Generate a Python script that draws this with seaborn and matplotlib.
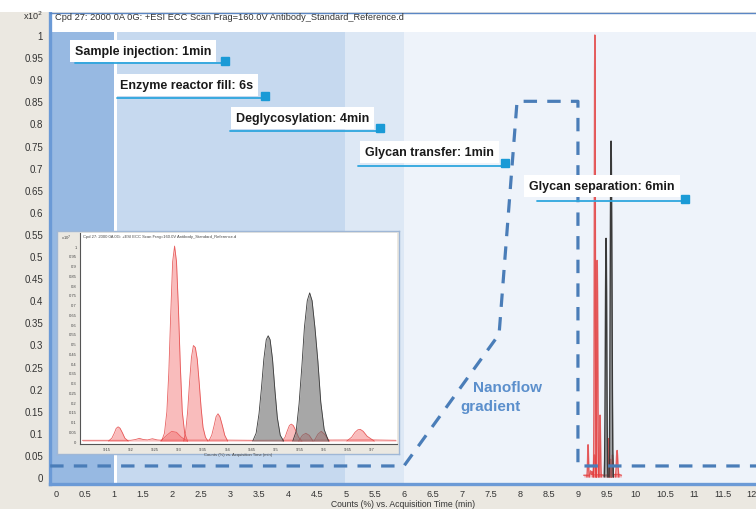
import numpy as np
import matplotlib
matplotlib.use('Agg')
import matplotlib.pyplot as plt
import seaborn as sns

# nanoflow gradient trace (time in min, level on the counts axis)
grad_time = [-0.1, 6.0, 7.64, 7.95, 9.0, 9.0, 12.1]
grad_level = [0.025, 0.025, 0.323, 0.85, 0.85, 0.025, 0.025]

# workflow steps shaded behind the chromatogram
span_start = [-0.2, 1.0, 1.05, 4.98, 6.0]
span_end = [1.0, 1.05, 4.98, 6.0, 12.2]
span_color = ['#97b9e2', '#ffffff', '#c6d9ef', '#dde8f5', '#eef3fa']

step_labels = ['Sample injection: 1min', 'Enzyme reactor fill: 6s',
               'Deglycosylation: 4min', 'Glycan transfer: 1min',
               'Glycan separation: 6min']
label_x = [0.33, 1.10, 3.10, 5.33, 8.16]
label_y = [0.964, 0.887, 0.812, 0.735, 0.658]
rule_x0 = [0.33, 1.05, 3.0, 5.21, 8.29]
rule_x1 = [2.97, 3.66, 5.64, 7.79, 10.9]
rule_y = [0.936, 0.857, 0.783, 0.704, 0.624]

# glycan peaks (min, counts x10^2)
red_base_t = [9.10, 9.20, 9.21, 9.218, 9.226, 9.235, 9.245, 9.255, 9.26,
              9.40, 9.45, 9.70, 9.75]
red_base_i = [0.004, 0.004, 0.008, 0.014, 0.008, 0.006, 0.012, 0.006, 0.005,
              0.005, 0.004, 0.006, 0.004]
red1_t = [9.154, 9.161, 9.166, 9.170, 9.174, 9.178, 9.183, 9.188, 9.195]
red1_i = [0, 0.015, 0.04, 0.065, 0.073, 0.066, 0.042, 0.015, 0]
red2_t = [9.262, 9.275, 9.285, 9.295, 9.305, 9.318]
red2_i = [0, 0.03, 0.05, 0.045, 0.02, 0]
red3_t = [9.264, 9.270, 9.275, 9.279, 9.283, 9.287, 9.291, 9.295, 9.299,
          9.303, 9.307, 9.312, 9.318]
red3_i = [0, 0.04, 0.15, 0.35, 0.65, 0.92, 1.0, 0.92, 0.68, 0.38, 0.15,
          0.04, 0]
red4_t = [9.310, 9.314, 9.318, 9.322, 9.326, 9.330, 9.334, 9.338, 9.342,
          9.346, 9.350, 9.355, 9.360]
red4_i = [0, 0.05, 0.15, 0.30, 0.43, 0.49, 0.48, 0.42, 0.30, 0.17, 0.07,
          0.02, 0]
red5_t = [9.362, 9.368, 9.373, 9.377, 9.381, 9.385, 9.390, 9.395, 9.401]
red5_i = [0, 0.03, 0.08, 0.125, 0.14, 0.125, 0.08, 0.03, 0]
red6_t = [9.514, 9.520, 9.525, 9.529, 9.533, 9.537, 9.542, 9.548, 9.555]
red6_i = [0, 0.02, 0.055, 0.08, 0.087, 0.08, 0.055, 0.02, 0]
red7_t = [9.548, 9.556, 9.563, 9.570, 9.578]
red7_i = [0, 0.03, 0.04, 0.03, 0]
red8_t = [9.580, 9.588, 9.595, 9.602, 9.612]
red8_i = [0, 0.035, 0.05, 0.035, 0]
red9_t = [9.648, 9.658, 9.665, 9.671, 9.676, 9.682, 9.690, 9.705]
red9_i = [0, 0.02, 0.045, 0.058, 0.06, 0.05, 0.025, 0]
grey1_t = [9.453, 9.460, 9.466, 9.471, 9.476, 9.481, 9.485, 9.489, 9.494,
           9.499, 9.504, 9.510, 9.517]
grey1_i = [0, 0.04, 0.14, 0.27, 0.42, 0.52, 0.54, 0.52, 0.42, 0.26, 0.12,
           0.03, 0]
grey2_t = [9.536, 9.543, 9.549, 9.555, 9.560, 9.566, 9.571, 9.576, 9.582,
           9.588, 9.594, 9.601, 9.610]
grey2_i = [0, 0.05, 0.19, 0.39, 0.58, 0.72, 0.76, 0.72, 0.58, 0.41, 0.20,
           0.06, 0]

red_traces = [(red_base_t, red_base_i), (red1_t, red1_i), (red2_t, red2_i),
              (red3_t, red3_i), (red4_t, red4_i), (red5_t, red5_i),
              (red6_t, red6_i), (red7_t, red7_i), (red8_t, red8_i),
              (red9_t, red9_i)]
grey_traces = [(grey1_t, grey1_i), (grey2_t, grey2_i)]

main_ticks_x = np.arange(0, 12.01, 0.5)
main_ticks_y = np.arange(0, 1.001, 0.05)
inset_ticks_x = np.arange(9.15, 9.701, 0.05)
inset_ticks_y = np.arange(0, 1.001, 0.05)

title = ('Cpd 27: 2000 0A 0G: +ESI ECC Scan Frag=160.0V '
         'Antibody_Standard_Reference.d')
xlab = 'Counts (%) vs. Acquisition Time (min)'

sns.set_style('white')
plt.rcParams['font.family'] = ['Liberation Sans', 'DejaVu Sans']

W, H = 756, 510
beige = '#ebe8e1'


def px_rect(x0, y0, x1, y1):
    return [x0 / W, 1 - y1 / H, (x1 - x0) / W, (y1 - y0) / H]


def fmt(v):
    return '%g' % round(v, 2)


def draw_traces(ax, lw):
    for t, i in red_traces:
        ax.fill_between(t, i, color='#f26b6b', alpha=0.45, lw=0, zorder=2)
        sns.lineplot(x=t, y=i, ax=ax, color='#e23a3a', lw=lw, alpha=0.8,
                     estimator=None, sort=False, zorder=2)
    for t, i in grey_traces:
        ax.fill_between(t, i, color='#6c6c6c', alpha=0.6, lw=0, zorder=2)
        sns.lineplot(x=t, y=i, ax=ax, color='#3a3a3a', lw=lw,
                     estimator=None, sort=False, zorder=2)


fig = plt.figure(figsize=(W / 100, H / 100), dpi=100, facecolor=beige)
fig.patches.append(plt.Rectangle((0, 1 - 13 / H), 1, 13 / H,
                                 transform=fig.transFigure,
                                 facecolor='white', edgecolor='none'))

ax = fig.add_axes(px_rect(50, 14, 756, 485))
ax.set_xlim(-0.103, 12.07)
ax.set_ylim(-0.0158, 1.0498)

for s0, s1, c in zip(span_start, span_end, span_color):
    ax.axvspan(s0, s1, color=c, lw=0, zorder=0)
ax.axhspan(1.0068, 1.06, color='white', lw=0, zorder=1)

draw_traces(ax, 1.0)

sns.lineplot(x=grad_time, y=grad_level, ax=ax, color='#4a7db8', lw=2.3,
             estimator=None, sort=False, zorder=3,
             linestyle=(0, (4.2, 3.2)))

for lab, tx, ty, r0, r1, ry in zip(step_labels, label_x, label_y,
                                   rule_x0, rule_x1, rule_y):
    ax.text(tx, ty, lab, fontsize=9, weight='bold', color='#1a1a1a',
            ha='left', va='center', zorder=5,
            bbox=dict(boxstyle='square,pad=0.4', facecolor='white',
                      edgecolor='none'))
    ax.plot([r0, r1], [ry, ry], color='#2ea6de', lw=1.3, zorder=6)
    ax.plot([r1 - 0.05], [ry + 0.006], marker='s', ms=5.5,
            color='#1a9ad6', zorder=6)

ax.text(7.19, 0.203, 'Nanoflow', color='#5b8fcc', fontsize=11,
        weight='bold', ha='left', va='center', zorder=5)
ax.text(6.97, 0.160, 'gradient', color='#5b8fcc', fontsize=11,
        weight='bold', ha='left', va='center', zorder=5)

ax.text(-0.017, 1.043, title, fontsize=6.7, color='#333333',
        ha='left', va='center', zorder=5)
fig.text(33 / W, 1 - 16 / H, r'x10$^2$', fontsize=6.5, color='#333333',
         ha='center', va='center')

ax.set_xticks(main_ticks_x)
ax.set_xticklabels([fmt(v) for v in main_ticks_x])
ax.set_yticks(main_ticks_y)
ax.set_yticklabels([fmt(v) for v in main_ticks_y])
ax.tick_params(axis='both', labelsize=7, colors='#333333', length=3,
               width=0.8, direction='out', pad=2)
ax.tick_params(axis='x', labelsize=6.6, length=2.5, pad=1)
ax.set_xlabel(xlab, fontsize=6.2, color='#333333')
ax.xaxis.set_label_coords(0.5, -(509 - 485) / (485 - 14))
ax.xaxis.label.set_va('bottom')
ax.set_ylabel('')
for side in ['left', 'bottom']:
    ax.spines[side].set_color('#6b9ad6')
    ax.spines[side].set_linewidth(2.4)
ax.spines['top'].set_color('#5b87c5')
ax.spines['top'].set_linewidth(1)
ax.spines['right'].set_visible(False)

# zoomed chromatogram pasted over the main plot
bg = fig.add_axes(px_rect(57, 232, 399, 455))
bg.set_facecolor(beige)
bg.set_xticks([])
bg.set_yticks([])
for s in bg.spines.values():
    s.set_color('#9fb7d6')
    s.set_linewidth(1)
bg.set_zorder(2)

ins = fig.add_axes(px_rect(80, 234, 397, 445))
ins.set_zorder(3)
ins.set_facecolor('white')
ins.set_xlim(9.095, 9.752)
ins.set_ylim(-0.015, 1.067)
draw_traces(ins, 0.6)
ins.set_xticks(inset_ticks_x)
ins.set_xticklabels([fmt(v) for v in inset_ticks_x])
ins.set_yticks(inset_ticks_y)
ins.set_yticklabels([fmt(v) for v in inset_ticks_y])
ins.tick_params(axis='both', labelsize=3, colors='#444444', length=1.5,
                width=0.5, pad=1)
ins.set_xlabel(xlab, fontsize=3, color='#444444', labelpad=0.5)
ins.set_ylabel('')
for side in ['left', 'bottom']:
    ins.spines[side].set_color('#555555')
    ins.spines[side].set_linewidth(0.8)
for side in ['top', 'right']:
    ins.spines[side].set_visible(False)
ins.text(0.01, 0.985, title, transform=ins.transAxes, fontsize=3,
         color='#444444', ha='left', va='center')
fig.text(66 / W, 1 - 238 / H, r'x10$^7$', fontsize=3, color='#444444',
         ha='center', va='center', zorder=4)

fig.savefig('out.png', dpi=100, facecolor=beige)
